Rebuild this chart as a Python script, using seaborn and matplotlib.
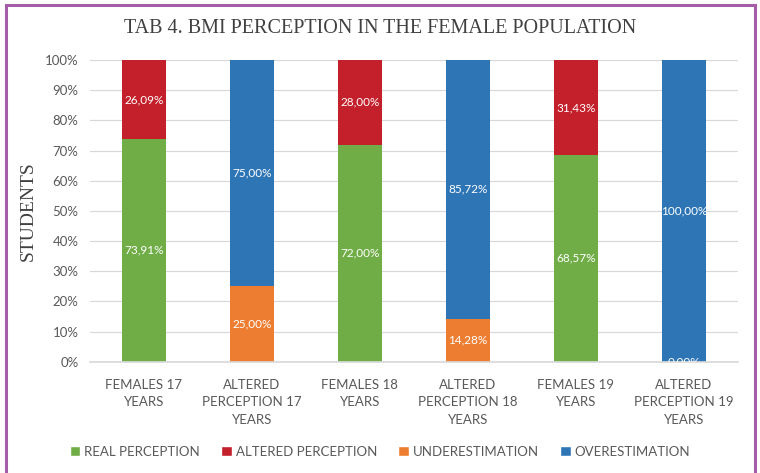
import numpy as np
import pandas as pd
import matplotlib
matplotlib.use("Agg")
import matplotlib.pyplot as plt
import seaborn as sns
from matplotlib.patches import Rectangle, Patch

# categories and series (percent), nan = no value in the table
categories = ["FEMALES 17\nYEARS", "ALTERED\nPERCEPTION 17\nYEARS",
              "FEMALES 18\nYEARS", "ALTERED\nPERCEPTION 18\nYEARS",
              "FEMALES 19\nYEARS", "ALTERED\nPERCEPTION 19\nYEARS"]
real = [73.91, np.nan, 72.00, np.nan, 68.57, np.nan]
altered = [26.09, np.nan, 28.00, np.nan, 31.43, np.nan]
under = [np.nan, 25.00, np.nan, 14.28, np.nan, 0.00]
over = [np.nan, 75.00, np.nan, 85.72, np.nan, 100.00]

series_names = ["REAL PERCEPTION", "ALTERED PERCEPTION", "UNDERESTIMATION", "OVERESTIMATION"]
colors = ["#70AD47", "#C3202B", "#ED7D31", "#2E75B6"]

sns.set_theme(style="white")
plt.rcParams["font.family"] = ["Lato", "DejaVu Sans"]

df = pd.DataFrame({"cat": categories, "real": real, "altered": altered,
                   "under": under, "over": over})
vals = df[["real", "altered", "under", "over"]].fillna(0)
cum = vals.cumsum(axis=1)  # stacked tops

fig = plt.figure(figsize=(7.6, 4.73), dpi=100)
ax = fig.add_axes([0.118, 0.235, 0.853, 0.638])

# draw cumulative totals from top layer down so each layer sits on the one below
for col, c in zip(["over", "under", "altered", "real"], colors[::-1]):
    sns.barplot(x=df["cat"], y=cum[col], color=c, width=0.41, ax=ax,
                saturation=1, order=categories, linewidth=0, edgecolor="none")

# data labels
for i in range(len(categories)):
    for col in ["real", "altered", "under", "over"]:
        v = df[col].iloc[i]
        if np.isnan(v):
            continue
        top = cum[col].iloc[i]
        ax.text(i, top - vals[col].iloc[i] / 2, f"{v:.2f}%".replace(".", ","),
                ha="center", va="center", color="white", fontsize=8.5,
                clip_on=True, zorder=5)

ax.set_ylim(0, 100)
ax.set_xlim(-0.5, 5.5)
ax.set_yticks(range(0, 101, 10))
ax.set_yticklabels([f"{t}%" for t in range(0, 101, 10)], color="#595959", fontsize=9.5)
ax.set_xticks(range(len(categories)))
ax.set_xticklabels(categories, color="#595959", fontsize=9.5, linespacing=1.55)
ax.tick_params(axis="y", length=0, pad=8)
ax.tick_params(axis="x", length=0, pad=12)
ax.yaxis.grid(True, color="#D9D9D9", linewidth=0.9)
ax.set_axisbelow(True)
for s in ["top", "right", "left"]:
    ax.spines[s].set_visible(False)
ax.spines["bottom"].set_color("#D9D9D9")
ax.set_xlabel("")
ax.set_ylabel("STUDENTS", family=["Liberation Serif"], fontsize=14, color="#404040", labelpad=6)

fig.text(0.5, 0.94, "TAB 4. BMI PERCEPTION IN THE FEMALE POPULATION",
         family=["Liberation Serif"], fontsize=14.5, color="#404040",
         ha="center", va="center")

handles = [Patch(facecolor=c, label=n) for n, c in zip(series_names, colors)]
fig.legend(handles=handles, loc="center", bbox_to_anchor=(0.5, 0.045), ncol=4,
           frameon=False, fontsize=9.5, handlelength=0.8, handleheight=0.8,
           handletextpad=0.3, columnspacing=1.6, labelcolor="#595959")

# purple frame
fig.patches.append(Rectangle((0.008, -0.05), 0.985, 1.04, transform=fig.transFigure,
                             fill=False, edgecolor="#A45EA8", linewidth=2.2))

fig.savefig("out.png", dpi=100)
